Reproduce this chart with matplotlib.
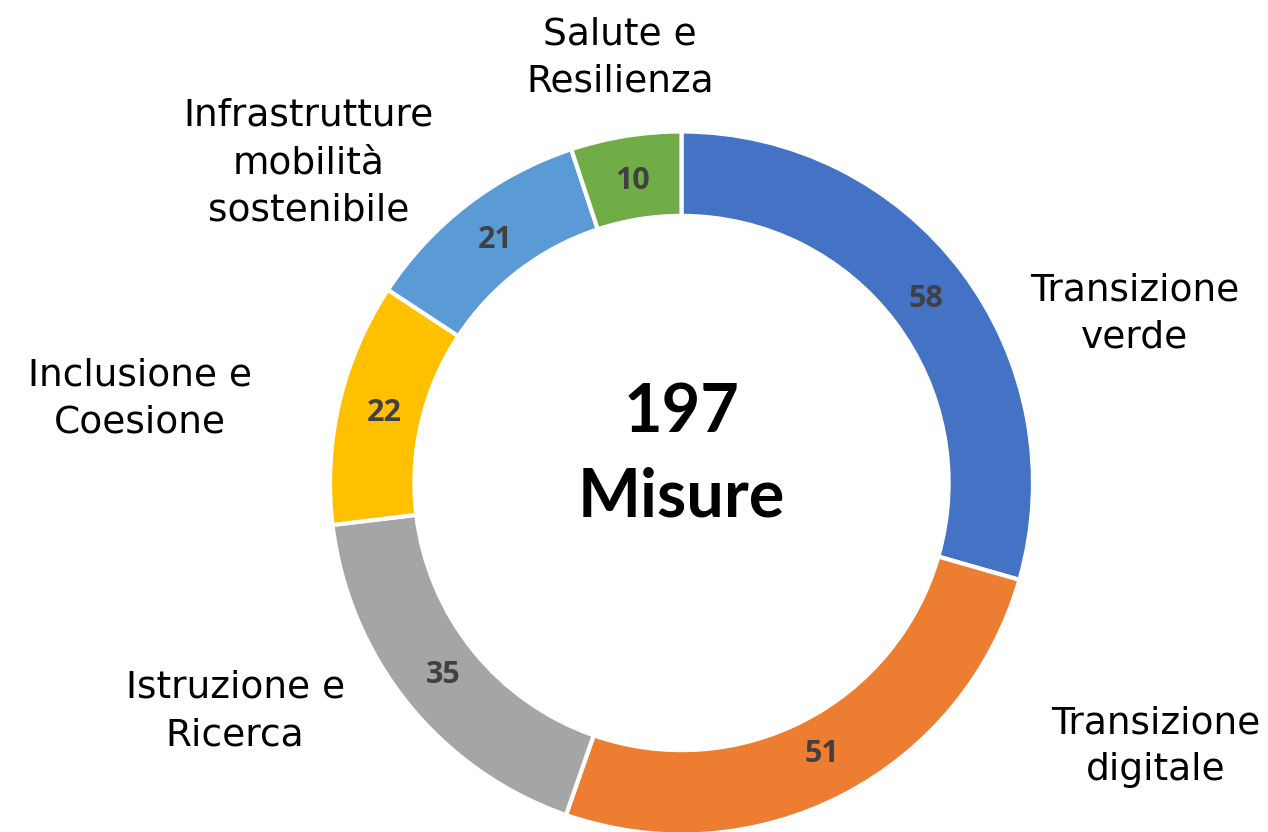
import matplotlib
matplotlib.use("Agg")
import matplotlib.pyplot as plt
import numpy as np

# data, clockwise from the top
categories = ["Transizione\nverde", "Transizione\ndigitale", "Istruzione e\nRicerca",
              "Inclusione e\nCoesione", "Infrastrutture\nmobilità\nsostenibile",
              "Salute e\nResilienza"]
values = [58, 51, 35, 22, 21, 10]
colors = ["#4472C4", "#ED7D31", "#A5A5A5", "#FFC000", "#5B9BD5", "#70AD47"]
center_text = "197\nMisure"

# where the outer labels sit (data units, radius = 1)
label_pos = [(1.29, 0.48), (1.35, -0.75), (-1.27, -0.65),
             (-1.54, 0.24), (-1.06, 0.91), (-0.175, 1.21)]

W, H = 1268, 832
fig = plt.figure(figsize=(W / 100, H / 100), dpi=100)
cx, cy, r = 681.5, 483, 351.5
ax = fig.add_axes([(cx - r) / W, (H - cy - r) / H, 2 * r / W, 2 * r / H])

wedges, _ = ax.pie(values, colors=colors, startangle=90, counterclock=False,
                   radius=1, wedgeprops=dict(width=0.24, edgecolor="white", linewidth=3))

# value labels in the middle of the ring
for w, v in zip(wedges, values):
    ang = np.deg2rad((w.theta1 + w.theta2) / 2)
    rr = 0.87
    ax.text(rr * np.cos(ang), rr * np.sin(ang), str(v), ha="center", va="center",
            fontsize=22, fontweight="bold", color="#404040", family="Open Sans")

for (x, y), lab in zip(label_pos, categories):
    ax.text(x, y, lab, ha="center", va="center", fontsize=27, color="black",
            family="DejaVu Sans", linespacing=1.4)

ax.text(0, 0.08, center_text, ha="center", va="center", fontsize=48,
        fontweight="bold", color="black", family="Lato", linespacing=1.45)

ax.set_xlim(-1, 1)
ax.set_ylim(-1, 1)
ax.set_aspect("equal")
ax.axis("off")

fig.savefig("out.png", dpi=100)
